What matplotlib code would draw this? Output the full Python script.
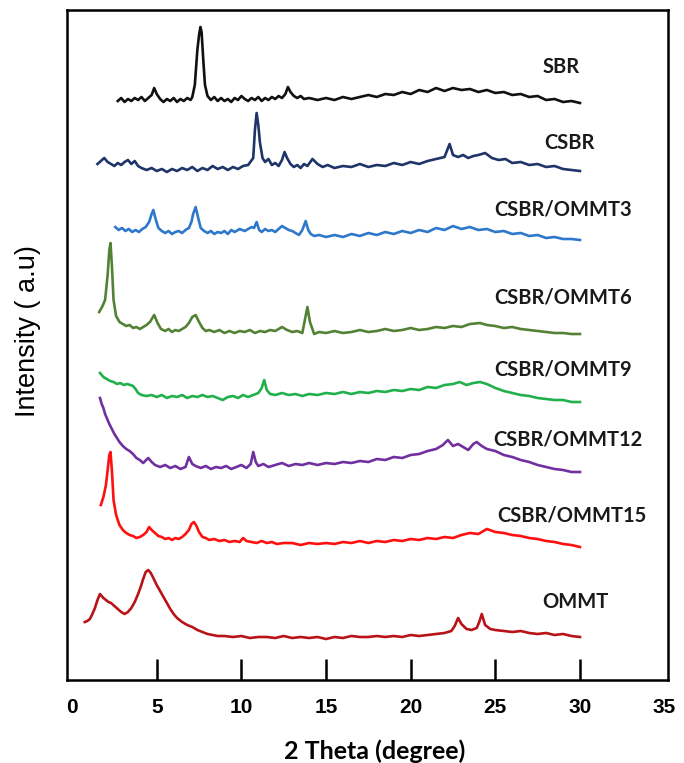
import matplotlib
matplotlib.use("Agg")
import matplotlib.pyplot as plt

# ---- data (2 Theta in degrees, intensity in arbitrary units incl. vertical stacking) ----
sbr_x = [2.7, 2.9, 3.1, 3.3, 3.5, 3.7, 3.9, 4.1, 4.3, 4.5, 4.7, 4.85, 5.0, 5.2, 5.4, 5.6, 5.8, 6.0, 6.2, 6.4,
         6.6, 6.8, 7.0, 7.1, 7.25, 7.4, 7.5, 7.58, 7.65, 7.75, 7.85, 8.0, 8.2, 8.4, 8.6, 8.8, 9.0, 9.2, 9.4, 9.6,
         9.8, 10.0, 10.2, 10.4, 10.6, 10.8, 11.0, 11.2, 11.4, 11.6, 11.8, 12.0, 12.2, 12.4, 12.6, 12.75, 12.9, 13.1, 13.3, 13.5,
         13.7, 14, 14.5, 15, 15.5, 16, 16.5, 17, 17.5, 18, 18.5, 19, 19.5, 20, 20.5, 21, 21.5, 22, 22.5, 23,
         23.5, 24, 24.5, 25, 25.5, 26, 26.5, 27, 27.5, 28, 28.5, 29, 29.5, 30]
sbr_y = [579, 582, 578, 581, 579, 582, 580, 583, 579, 582, 585, 592, 586, 581, 578, 581, 579, 582, 578, 581,
         579, 582, 580, 583, 595, 630, 645, 653, 648, 620, 595, 584, 580, 583, 579, 582, 579, 581, 578, 582,
         580, 584, 581, 579, 582, 580, 583, 579, 582, 580, 583, 581, 584, 582, 586, 593, 588, 584, 582, 584,
         581, 582, 580, 582, 580, 583, 581, 583, 585, 583, 586, 585, 588, 586, 590, 588, 592, 589, 592, 590,
         591, 588, 590, 587, 588, 585, 586, 583, 584, 580, 581, 578, 579, 577]

csbr_x = [1.5, 1.7, 1.9, 2.1, 2.3, 2.5, 2.7, 2.9, 3.1, 3.3, 3.5, 3.7, 3.9, 4.1, 4.4, 4.7, 5.0, 5.3, 5.6, 5.9,
          6.2, 6.5, 6.8, 7.1, 7.4, 7.7, 8.0, 8.3, 8.6, 8.9, 9.2, 9.5, 9.8, 10.1, 10.4, 10.7, 10.8, 10.9, 11.0, 11.1,
          11.25, 11.4, 11.6, 11.8, 12.0, 12.2, 12.4, 12.55, 12.7, 12.9, 13.1, 13.3, 13.5, 13.7, 13.9, 14.2, 14.5, 14.8, 15.1, 15.5,
          16, 16.5, 17, 17.5, 18, 18.5, 19, 19.5, 20, 20.5, 21, 21.5, 22.0, 22.3, 22.5, 22.8, 23.1, 23.4, 23.7, 24.0,
          24.4, 24.8, 25.2, 25.6, 26, 26.5, 27, 27.5, 28, 28.5, 29, 29.5, 30]
csbr_y = [516, 519, 522, 518, 516, 514, 517, 515, 518, 520, 516, 519, 514, 512, 510, 512, 509, 511, 508, 511,
          509, 512, 510, 513, 509, 512, 510, 514, 511, 513, 510, 513, 511, 514, 515, 522, 550, 567, 555, 537,
          522, 518, 521, 515, 517, 514, 520, 528, 522, 516, 513, 515, 512, 516, 514, 521, 516, 513, 515, 512,
          514, 513, 516, 513, 515, 514, 517, 515, 518, 516, 519, 521, 523, 536, 525, 523, 525, 522, 524, 525,
          527, 522, 520, 521, 517, 518, 515, 516, 513, 514, 511, 510, 509]

o3_x = [2.55, 2.75, 2.95, 3.15, 3.35, 3.55, 3.75, 3.95, 4.15, 4.35, 4.55, 4.7, 4.8, 4.95, 5.1, 5.3, 5.5, 5.7, 5.9, 6.1,
        6.3, 6.5, 6.7, 6.9, 7.05, 7.15, 7.3, 7.45, 7.6, 7.8, 8.0, 8.2, 8.4, 8.6, 8.8, 9.0, 9.2, 9.4, 9.6, 9.9,
        10.2, 10.4, 10.6, 10.75, 10.9, 11.05, 11.2, 11.4, 11.6, 11.8, 12.0, 12.2, 12.4, 12.6, 12.8, 13.0, 13.2, 13.4, 13.6, 13.8,
        13.95, 14.1, 14.3, 14.6, 15, 15.5, 16, 16.5, 17, 17.5, 18, 18.5, 19, 19.5, 20, 20.5, 21, 21.5, 22, 22.5,
        23, 23.5, 24, 24.5, 25, 25.5, 26, 26.5, 27, 27.5, 28, 28.5, 29, 29.5, 30]
o3_y = [453, 450, 452, 449, 451, 448, 450, 448, 451, 453, 458, 466, 470, 460, 452, 449, 447, 449, 446, 448,
        449, 447, 450, 452, 458, 466, 473, 462, 452, 449, 447, 449, 446, 448, 447, 449, 446, 450, 448, 451,
        449, 451, 453, 452, 458, 450, 448, 451, 449, 450, 448, 451, 454, 452, 450, 449, 447, 445, 450, 459,
        450, 446, 444, 445, 443, 445, 443, 446, 444, 447, 445, 448, 446, 449, 447, 450, 448, 452, 450, 454,
        451, 453, 450, 451, 448, 449, 446, 447, 444, 445, 442, 443, 441, 441, 440]

o6_x = [1.6, 1.8, 1.95, 2.1, 2.2, 2.27, 2.35, 2.45, 2.6, 2.8, 3.0, 3.2, 3.4, 3.6, 3.8, 4.0, 4.2, 4.4, 4.6, 4.85,
        5.05, 5.25, 5.5, 5.7, 5.9, 6.1, 6.3, 6.5, 6.7, 6.9, 7.1, 7.3, 7.5, 7.7, 7.9, 8.1, 8.4, 8.7, 9.0, 9.3,
        9.6, 9.9, 10.2, 10.5, 10.8, 11.1, 11.4, 11.7, 12.0, 12.4, 12.7, 13.0, 13.3, 13.6, 13.75, 13.9, 14.05, 14.3, 14.6, 15,
        15.5, 16, 16.5, 17, 17.5, 18, 18.5, 19, 19.5, 20, 20.5, 21, 21.5, 22, 22.5, 23, 23.5, 24.1, 24.5, 25,
        25.5, 26, 26.5, 27, 27.5, 28, 28.5, 29, 29.5, 30]
o6_y = [368, 374, 380, 405, 430, 437, 415, 380, 364, 358, 356, 354, 355, 352, 353, 351, 353, 355, 358, 365,
        357, 351, 349, 351, 348, 350, 349, 351, 353, 357, 363, 365, 358, 352, 349, 350, 348, 350, 347, 349,
        347, 349, 348, 350, 347, 349, 348, 350, 349, 353, 350, 348, 349, 347, 360, 373, 358, 346, 348, 347,
        349, 347, 348, 350, 348, 349, 351, 349, 350, 352, 350, 351, 353, 352, 354, 353, 356, 357, 355, 354,
        352, 353, 351, 350, 349, 348, 347, 347, 346, 346]

o9_x = [1.65, 1.85, 2.05, 2.25, 2.45, 2.65, 2.85, 3.05, 3.25, 3.45, 3.6, 3.75, 3.9, 4.1, 4.4, 4.7, 5.0, 5.3, 5.6, 5.9,
        6.2, 6.5, 6.8, 7.1, 7.4, 7.7, 8.0, 8.3, 8.6, 8.9, 9.2, 9.5, 9.8, 10.1, 10.4, 10.7, 11.0, 11.2, 11.35, 11.5,
        11.7, 12.0, 12.4, 12.8, 13.2, 13.6, 14, 14.5, 15, 15.5, 16, 16.5, 17, 17.5, 18, 18.5, 19, 19.5, 20, 20.5,
        21, 21.5, 22, 22.5, 22.9, 23.3, 23.7, 24.1, 24.5, 25, 25.5, 26, 26.5, 27, 27.5, 28, 28.5, 29, 29.5, 30]
o9_y = [307, 303, 301, 299, 298, 296, 297, 295, 296, 295, 294, 291, 287, 285, 284, 285, 283, 285, 282, 284,
        283, 285, 282, 284, 283, 285, 283, 284, 282, 280, 283, 284, 282, 285, 283, 285, 287, 292, 300, 290,
        286, 285, 287, 285, 286, 284, 286, 285, 287, 286, 288, 286, 288, 287, 289, 288, 290, 289, 291, 290,
        293, 292, 295, 296, 298, 295, 297, 298, 296, 292, 289, 287, 285, 284, 282, 281, 280, 280, 278, 278]

o12_x = [1.65, 1.75, 1.85, 1.95, 2.05, 2.2, 2.35, 2.5, 2.65, 2.8, 3.0, 3.2, 3.4, 3.6, 3.8, 4.0, 4.2, 4.5, 4.7, 4.9,
         5.2, 5.5, 5.8, 6.1, 6.4, 6.7, 6.9, 7.1, 7.3, 7.6, 7.9, 8.2, 8.5, 8.8, 9.1, 9.4, 9.7, 10.0, 10.3, 10.55,
         10.7, 10.85, 11.0, 11.3, 11.6, 12, 12.4, 12.8, 13.2, 13.6, 14, 14.5, 15, 15.5, 16, 16.5, 17, 17.5, 18, 18.5,
         19, 19.5, 20, 20.5, 21, 21.5, 21.9, 22.2, 22.5, 22.8, 23.1, 23.4, 23.7, 23.9, 24.2, 24.5, 25, 25.5, 26, 26.5,
         27, 27.5, 28, 28.5, 29, 29.5, 30]
o12_y = [282, 276, 272, 266, 262, 256, 251, 246, 242, 238, 234, 231, 229, 226, 222, 220, 217, 222, 218, 215,
         213, 215, 212, 214, 211, 213, 223, 216, 214, 212, 214, 211, 213, 212, 214, 211, 213, 215, 212, 216,
         228, 218, 214, 216, 213, 215, 217, 214, 216, 215, 217, 215, 217, 216, 218, 217, 219, 218, 221, 220,
         223, 222, 225, 226, 229, 231, 235, 240, 234, 236, 233, 230, 236, 238, 234, 231, 229, 225, 223, 220,
         218, 215, 213, 211, 210, 208, 208]

o15_x = [1.7, 1.85, 2.0, 2.1, 2.2, 2.27, 2.35, 2.45, 2.6, 2.8, 3.0, 3.2, 3.4, 3.6, 3.8, 4.0, 4.2, 4.4, 4.55, 4.7,
         4.9, 5.1, 5.3, 5.5, 5.7, 5.9, 6.1, 6.3, 6.5, 6.7, 6.9, 7.05, 7.2, 7.35, 7.5, 7.7, 7.9, 8.1, 8.4, 8.7,
         9.0, 9.3, 9.6, 9.9, 10.1, 10.3, 10.6, 10.9, 11.2, 11.5, 11.8, 12.1, 12.5, 13, 13.5, 14, 14.5, 15, 15.5, 16,
         16.5, 17, 17.5, 18, 18.5, 19, 19.5, 20, 20.5, 21, 21.5, 22, 22.5, 23, 23.5, 24, 24.5, 25, 25.5, 26,
         26.5, 27, 27.5, 28, 28.5, 29, 29.5, 30]
o15_y = [175, 183, 195, 210, 225, 228, 210, 180, 165, 155, 150, 147, 145, 144, 142, 143, 145, 148, 153, 150,
         147, 144, 143, 141, 142, 140, 142, 141, 143, 146, 150, 156, 158, 154, 148, 143, 142, 140, 141, 139,
         140, 138, 139, 138, 142, 139, 138, 137, 139, 137, 138, 136, 137, 137, 135, 137, 136, 137, 136, 138,
         137, 139, 137, 139, 138, 140, 139, 141, 140, 142, 141, 143, 142, 145, 147, 146, 151, 148, 147, 145,
         144, 142, 141, 139, 138, 136, 135, 133]

ommt_x = [0.75, 0.9, 1.05, 1.2, 1.35, 1.5, 1.65, 1.75, 1.85, 2.0, 2.15, 2.3, 2.5, 2.7, 2.9, 3.1, 3.3, 3.5, 3.7, 3.9,
          4.05, 4.2, 4.35, 4.5, 4.65, 4.8, 5.0, 5.2, 5.4, 5.6, 5.8, 6.0, 6.2, 6.5, 6.8, 7.1, 7.4, 7.7, 8.0, 8.3,
          8.6, 9.0, 9.5, 10, 10.5, 11, 11.5, 12, 12.5, 13, 13.5, 14, 14.5, 15, 15.5, 16, 16.5, 17, 17.5, 18,
          18.5, 19, 19.5, 20, 20.5, 21, 21.5, 22, 22.4, 22.6, 22.8, 23.0, 23.3, 23.6, 23.9, 24.05, 24.2, 24.4, 24.7, 25,
          25.5, 26, 26.5, 27, 27.5, 28, 28.5, 29, 29.5, 30]
ommt_y = [58, 59, 61, 66, 72, 80, 86, 84, 82, 80, 78, 77, 74, 71, 68, 66, 68, 72, 78, 86,
          93, 101, 108, 110, 107, 102, 95, 89, 83, 77, 71, 66, 62, 58, 55, 53, 50, 48, 46, 45,
          44, 44, 43, 44, 42, 43, 43, 42, 44, 42, 43, 42, 43, 41, 43, 42, 44, 43, 43, 44,
          43, 44, 43, 45, 44, 45, 46, 47, 49, 54, 62, 56, 51, 50, 52, 58, 66, 55, 51, 50,
          49, 48, 49, 47, 46, 47, 45, 46, 44, 43]

names = ["SBR", "CSBR", "CSBR/OMMT3", "CSBR/OMMT6", "CSBR/OMMT9", "CSBR/OMMT12", "CSBR/OMMT15", "OMMT"]
label_x = [28.9, 29.4, 29.0, 29.0, 29.0, 29.3, 29.5, 29.7]
label_y = [613, 537, 470, 383, 310, 240, 165, 78]
x_ticks = [0, 5, 10, 15, 20, 25, 30, 35]

series = [(sbr_x, sbr_y), (csbr_x, csbr_y), (o3_x, o3_y), (o6_x, o6_y),
          (o9_x, o9_y), (o12_x, o12_y), (o15_x, o15_y), (ommt_x, ommt_y)]
colors = ["#111111", "#1F3468", "#2E78CC", "#548235", "#21B04B", "#7030A0", "#FF1010", "#B81418"]

fig = plt.figure(figsize=(6.84, 7.63), dpi=100)
ax = fig.add_axes([67/684, 1 - 680/763, (668-67)/684, (680-10)/763])

for (xs, ys), c in zip(series, colors):
    ax.plot(xs, ys, color=c, lw=1.9, solid_joinstyle="round")

for n, lx, ly in zip(names, label_x, label_y):
    ax.text(lx, ly, n, ha="center", va="center", fontsize=14.5,
            fontfamily="Lato", fontweight="bold", color="#1a1a1a")

ax.set_xlim(-0.3, 35.2)
ax.set_ylim(0, 670)
ax.set_xticks(x_ticks)
ax.set_xticklabels([str(t) for t in x_ticks], fontfamily="Liberation Sans",
                   fontweight="bold", fontsize=15)
ax.set_yticks([])
ax.tick_params(axis="x", direction="in", length=15, width=1.8, pad=13, color="black")
tl = ax.xaxis.get_ticklines()
for i in (0, 1, len(tl) - 2, len(tl) - 1):
    tl[i].set_visible(False)
for s in ax.spines.values():
    s.set_linewidth(1.8)
    s.set_color("black")

ax.set_xlabel("2 Theta (degree)", fontfamily="Lato", fontweight="bold", fontsize=18)
ax.xaxis.set_label_coords(0.512, -0.088)
ax.set_ylabel("Intensity ( a.u)", fontfamily="Liberation Sans", fontsize=19.5)
ax.yaxis.set_label_coords(-0.043, 0.521)

fig.savefig("out.png", dpi=100)
